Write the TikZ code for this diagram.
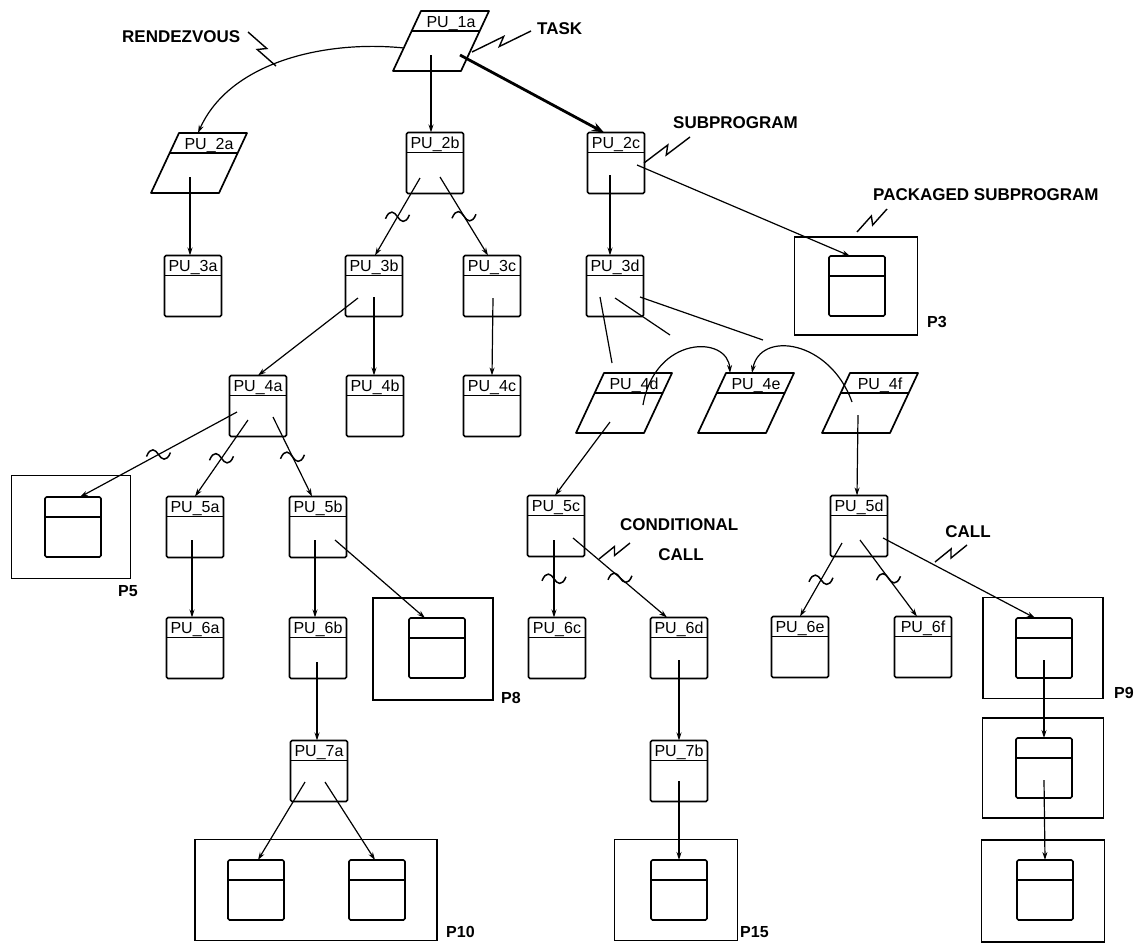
\documentclass[tikz,border=0pt]{standalone}
\usepackage{fontspec}
\setmainfont{Liberation Sans}
\usetikzlibrary{calc,arrows.meta}
\newcommand\pu[4]{\node[pubox] (#1) at (#2,#3) {};
  \node[pulbl] (#1t) at ($(#1.north)+(0,16)$) {#4};}
\newcommand\pg[4]{\node[inv] (#1) at (#2,#3) {};
  \draw[boxln] ($(#1)+(-20,-30)$) -- ($(#1)+(48,-30)$) -- ($(#1)+(20,30)$) -- ($(#1)+(-48,30)$) -- cycle;
  \draw[boxln] ($(#1)+(-29.3,-10)$) -- ($(#1)+(38.7,-10)$);
  \node[pulbl] (#1t) at ($(#1)+(10,-14)$) {#4};}
\newcommand\zig[2]{\draw[zz] (#1) -- ($(#1)!0.56!(#2)!4pt!90:(#2)$) -- ($(#1)!0.44!(#2)!4pt!-90:(#2)$) -- (#2);}
\begin{document}
\begin{tikzpicture}[x=1pt,y=-1pt,
  boxln/.style={line width=1.7pt, line join=round},
  pubox/.style={draw, boxln, rounded corners=1.5pt, minimum width=57pt, minimum height=61pt, inner sep=0pt, outer sep=0pt,
     path picture={\draw[line width=1.7pt] ([yshift=-20pt]path picture bounding box.north west) -- ([yshift=-20pt]path picture bounding box.north east);}},
  inbox/.style={pubox, minimum width=56pt, minimum height=60pt},
  pkg/.style={draw, line width=1.6pt, inner sep=0pt, outer sep=0pt},
  inv/.style={inner sep=0pt, minimum width=68pt, minimum height=60pt},
  pulbl/.style={anchor=base, inner sep=0pt, font=\fontsize{16}{16}\selectfont},
  ann/.style={inner sep=0pt, font=\bfseries\fontsize{17}{17}\selectfont},
  plbl/.style={inner sep=0pt, anchor=west, font=\bfseries\fontsize{16}{16}\selectfont},
  ln/.style={line width=1.2pt},
  conn/.style={ln, -{Stealth[length=8pt,width=5pt]}},
  zz/.style={line width=1.4pt, line join=miter},
  tld/.pic={\draw[line width=1.5pt] (-12,2) .. controls (-8,-8) and (-3,-5) .. (0,0) .. controls (3,5) and (8,8) .. (12,-2);}
]
\useasboundingbox (0,0) rectangle (1143,946);
\fill[white] (0,0) rectangle (1143,946);

% ---- program units
\pg{pu1a}{441}{41}{PU\_1a}
\pg{pu2a}{199}{163}{PU\_2a}
\pu{pu2b}{435}{163}{PU\_2b}
\pu{pu2c}{616}{163}{PU\_2c}
\pu{pu3a}{193}{286}{PU\_3a}
\pu{pu3b}{374}{286}{PU\_3b}
\pu{pu3c}{492}{286}{PU\_3c}
\pu{pu3d}{615}{286}{PU\_3d}
\pu{pu4a}{258}{406}{PU\_4a}
\pu{pu4b}{375}{406}{PU\_4b}
\pu{pu4c}{492}{406}{PU\_4c}
\pg{pu4d}{624}{403}{PU\_4d}
\pg{pu4e}{746}{403}{PU\_4e}
\pg{pu4f}{870}{403}{PU\_4f}
\pu{pu5a}{195}{527}{PU\_5a}
\pu{pu5b}{318}{527}{PU\_5b}
\pu{pu5c}{556}{526}{PU\_5c}
\pu{pu5d}{859}{526}{PU\_5d}
\pu{pu6a}{195}{648}{PU\_6a}
\pu{pu6b}{318}{648}{PU\_6b}
\pu{pu6c}{557}{648}{PU\_6c}
\pu{pu6d}{679}{648}{PU\_6d}
\pu{pu6e}{800}{647}{PU\_6e}
\pu{pu6f}{923}{647}{PU\_6f}
\pu{pu7a}{319}{771}{PU\_7a}
\pu{pu7b}{679}{771}{PU\_7b}

% ---- packages
\node[pkg, minimum width=123pt, minimum height=98pt] (p3) at (856,286) {};
\node[inbox] (p3in) at (857,286) {};
\node[pkg, minimum width=119pt, minimum height=103pt] (p5) at (71,527) {};
\node[inbox] (p5in) at (73,527) {};
\node[pkg, minimum width=120pt, minimum height=102pt] (p8) at (433,649) {};
\node[inbox] (p8in) at (437,648) {};
\node[pkg, minimum width=120pt, minimum height=101pt] (p9) at (1043,648) {};
\node[inbox] (p9in) at (1044,648) {};
\node[pkg, minimum width=121pt, minimum height=100pt] (p9b) at (1043,768) {};
\node[inbox] (p9bin) at (1044,768) {};
\node[pkg, minimum width=123pt, minimum height=102pt] (p9c) at (1043,891) {};
\node[inbox] (p9cin) at (1045,890) {};
\node[pkg, minimum width=242pt, minimum height=101pt] (p10) at (316,890) {};
\node[inbox] (p10a) at (256,890) {};
\node[inbox] (p10b) at (377,890) {};
\node[pkg, minimum width=123pt, minimum height=101pt] (p15) at (676,890) {};
\node[inbox] (p15in) at (679,890) {};

\node[plbl] (lp3) at (927,322) {P3};
\node[plbl] (lp5) at (118,591) {P5};
\node[plbl] (lp8) at (501,698) {P8};
\node[plbl] (lp9) at (1114,693) {P9};
\node[plbl] (lp10) at (446,932) {P10};
\node[plbl] (lp15) at (740,932) {P15};

% ---- annotations
\node[ann, anchor=west] (trdv) at (122,37) {RENDEZVOUS};
\node[ann, anchor=west] (ttask) at (537,29) {TASK};
\node[ann, anchor=west] (tsub) at (673,123) {SUBPROGRAM};
\node[ann, anchor=west] (tpkg) at (873,195) {PACKAGED SUBPROGRAM};
\node[ann, anchor=west] (tcond) at (620,525) {CONDITIONAL};
\node[ann] (tcall1) at (681,555) {CALL};
\node[ann] (tcall2) at (968,532) {CALL};

\coordinate (z1a) at (248,32); \coordinate (z1b) at (276,66);
\coordinate (z2a) at (531,31); \coordinate (z2b) at (472,52);
\coordinate (z3a) at (690,137); \coordinate (z3b) at (644,163);
\coordinate (z4a) at (887,209); \coordinate (z4b) at (857,232);
\coordinate (z5a) at (630,543); \coordinate (z5b) at (599,559);
\coordinate (z6a) at (967,545); \coordinate (z6b) at (935,562);
\zig{z1a}{z1b}
\zig{z2a}{z2b}
\zig{z3a}{z3b}
\zig{z4a}{z4b}
\zig{z5a}{z5b}
\zig{z6a}{z6b}

% ---- connectors
\draw[conn] ($(pu1a)+(-37,7)$) .. controls +(-77,-8) and +(32,-72) .. ($(pu2a)+(-1,-30)$);
\draw[conn] ($(pu1a)+(-10,14)$) -- ($(pu2b.north)+(-4,0)$);
\draw[line width=2.8pt, -{Stealth[length=12pt,width=9pt]}] ($(pu1a)+(19,14)$) -- ($(pu2c.north)+(-12,0)$);
\draw[conn] ($(pu2a)+(-9,14)$) -- ($(pu3a.north)+(-3,0)$);
\draw[conn] ($(pu2b)+(-15,15)$) coordinate (c1) -- ($(pu3b.north)+(1,0)$) coordinate (c2);
\pic at ($(c1)!0.5!(c2)$) {tld};
\draw[conn] ($(pu2b)+(5,14)$) coordinate (c1) -- ($(pu3c.north)+(-4,0)$) coordinate (c2);
\pic at ($(c1)!0.5!(c2)$) {tld};
\draw[conn] ($(pu2c)+(-6,12)$) -- ($(pu3d.north)+(-5,0)$);
\draw[conn] ($(pu2c)+(21,2)$) -- ($(p3in.north)+(-7,0)$);

\draw[conn] ($(pu3b)+(-16,12)$) -- (pu4a.north);
\draw[conn] ($(pu3b)+(0,11)$) -- ($(pu4b.north)+(-1,0)$);
\draw[conn] ($(pu3c)+(1,12)$) -- (pu4c.north);

\coordinate (e1) at (612,363);
\coordinate (e2) at (670,335);
\coordinate (e3) at (763,340);
\draw[ln] ($(pu3d)+(-15,11)$) -- (e1);
\draw[ln] ($(pu3d)+(0,12)$) -- (e2);
\draw[ln] ($(pu3d)+(25,11)$) -- (e3);

\draw[conn] ($(pu4d)+(19,2)$) .. controls +(12,-70) and +(-2,-38) .. ($(pu4e)+(-16,-30)$);
\draw[conn] ($(pu4f)+(-18,-1)$) .. controls +(-22,-62) and +(8,-43) .. ($(pu4e)+(6,-30)$);

\draw[conn] ($(pu4d)+(-14,19)$) -- ($(pu5c.north)+(-1,0)$);
\draw[conn] ($(pu4f)+(-12,12)$) -- ($(pu5d.north)+(-2,0)$);

\draw[conn] ($(pu4a)+(-21,6)$) coordinate (c1) -- ($(p5in.north)+(7,0)$) coordinate (c2);
\pic at ($(c1)!0.5!(c2)$) {tld};
\draw[conn] ($(pu4a)+(-10,14)$) coordinate (c1) -- (pu5a.north) coordinate (c2);
\pic at ($(c1)!0.5!(c2)$) {tld};
\draw[conn] ($(pu4a)+(15,11)$) coordinate (c1) -- ($(pu5b.north)+(-6,0)$) coordinate (c2);
\pic at ($(c1)!0.5!(c2)$) {tld};

\draw[conn] ($(pu5a)+(-3,13)$) -- ($(pu6a.north)+(-3,0)$);
\draw[conn] ($(pu5b)+(-3,13)$) -- ($(pu6b.north)+(-3,0)$);
\draw[conn] ($(pu5b)+(17,13)$) -- ($(p8in.north)+(-12,0)$);

\draw[conn] ($(pu5c)+(-2,14)$) coordinate (c1) -- ($(pu6c.north)+(-3,0)$) coordinate (c2);
\pic at ($(c1)!0.5!(c2)$) {tld};
\draw[conn] ($(pu5c)+(17,12)$) coordinate (c1) -- ($(pu6d.north)+(-12,0)$) coordinate (c2);
\pic at ($(c1)!0.5!(c2)$) {tld};

\draw[conn] ($(pu5d)+(-17,17)$) coordinate (c1) -- (pu6e.north) coordinate (c2);
\pic at ($(c1)!0.5!(c2)$) {tld};
\draw[conn] ($(pu5d)+(1,14)$) coordinate (c1) -- ($(pu6f.north)+(-6,0)$) coordinate (c2);
\pic at ($(c1)!0.5!(c2)$) {tld};
\draw[conn] ($(pu5d)+(24,12)$) -- ($(p9in.north)+(-9,0)$);

\draw[conn] ($(pu6b)+(-1,14)$) -- ($(pu7a.north)+(-2,0)$);
\draw[conn] ($(pu6d)+(0,12)$) -- (pu7b.north);
\draw[conn] ($(pu7a)+(-14,11)$) -- ($(p10a.north)+(2,0)$);
\draw[conn] ($(pu7a)+(6,11)$) -- ($(p10b.north)+(-2,0)$);
\draw[conn] ($(pu7b)+(0,10)$) -- (p15in.north);
\draw[conn] ($(p9in)+(0,12)$) -- (p9bin.north);
\draw[conn] ($(p9bin)+(0,12)$) -- (p9cin.north);
\end{tikzpicture}
\end{document}
